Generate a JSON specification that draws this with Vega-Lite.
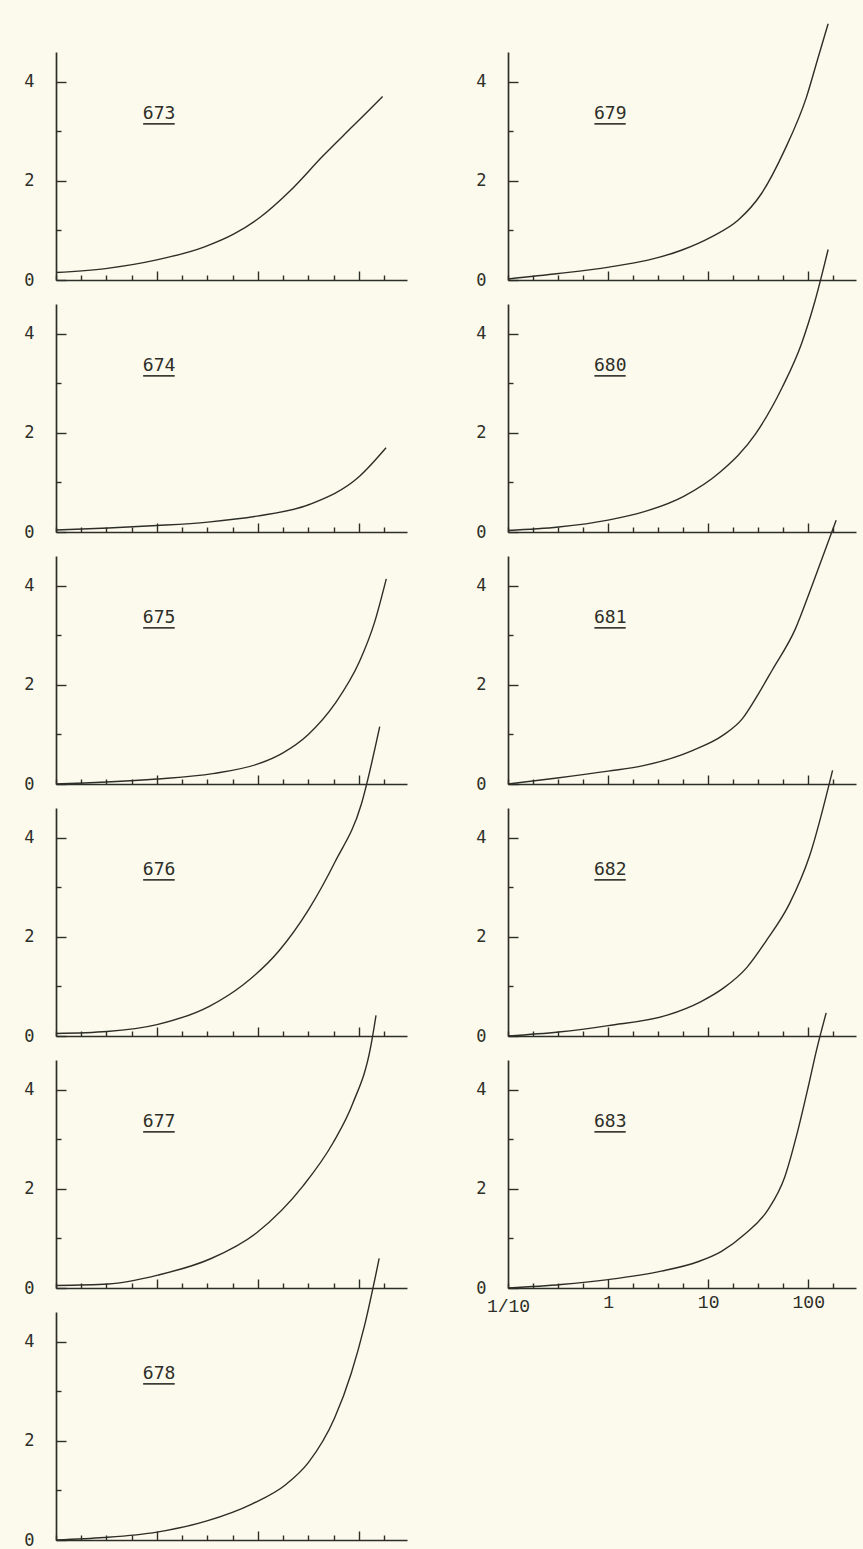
{
  "$schema": "https://vega.github.io/schema/vega-lite/v6.json",
  "background": "#fbfaec",
  "padding": {"left": 23, "top": 20, "right": 10, "bottom": 10},
  "config": {
    "view": {"stroke": null},
    "axis": {
      "grid": false,
      "domainColor": "#2e2e28",
      "domainWidth": 1.7,
      "tickColor": "#2e2e28",
      "tickWidth": 1.4,
      "labelColor": "#2e2e28",
      "labelFont": "DejaVu Sans Mono",
      "labelFontSize": 17,
      "title": null
    }
  },
  "datasets": {
    "curves": [
      {"p": "673", "x": 0.1, "y": 0.15}, {"p": "673", "x": 0.31, "y": 0.23}, {"p": "673", "x": 0.97, "y": 0.4}, {"p": "673", "x": 2.96, "y": 0.67}, {"p": "673", "x": 5.8, "y": 0.93}, {"p": "673", "x": 10.6, "y": 1.27}, {"p": "673", "x": 20.9, "y": 1.8}, {"p": "673", "x": 44, "y": 2.5}, {"p": "673", "x": 87, "y": 3.1}, {"p": "673", "x": 172, "y": 3.7},
      {"p": "674", "x": 0.1, "y": 0.04}, {"p": "674", "x": 0.33, "y": 0.08}, {"p": "674", "x": 1, "y": 0.13}, {"p": "674", "x": 3.2, "y": 0.2}, {"p": "674", "x": 9.8, "y": 0.32}, {"p": "674", "x": 32.8, "y": 0.56}, {"p": "674", "x": 101, "y": 1.12}, {"p": "674", "x": 186, "y": 1.7},
      {"p": "675", "x": 0.1, "y": 0}, {"p": "675", "x": 0.19, "y": 0.02}, {"p": "675", "x": 1, "y": 0.1}, {"p": "675", "x": 3.57, "y": 0.21}, {"p": "675", "x": 10.2, "y": 0.41}, {"p": "675", "x": 17.4, "y": 0.62}, {"p": "675", "x": 31.6, "y": 1.0}, {"p": "675", "x": 58, "y": 1.62}, {"p": "675", "x": 102, "y": 2.48}, {"p": "675", "x": 142, "y": 3.24}, {"p": "675", "x": 187, "y": 4.14},
      {"p": "676", "x": 0.1, "y": 0.05}, {"p": "676", "x": 0.32, "y": 0.09}, {"p": "676", "x": 1, "y": 0.23}, {"p": "676", "x": 3.3, "y": 0.6}, {"p": "676", "x": 7.1, "y": 1.03}, {"p": "676", "x": 16.2, "y": 1.72}, {"p": "676", "x": 31.8, "y": 2.55}, {"p": "676", "x": 58, "y": 3.51}, {"p": "676", "x": 106, "y": 4.68}, {"p": "676", "x": 161, "y": 6.24},
      {"p": "677", "x": 0.1, "y": 0.05}, {"p": "677", "x": 0.33, "y": 0.08}, {"p": "677", "x": 1.02, "y": 0.26}, {"p": "677", "x": 3.4, "y": 0.59}, {"p": "677", "x": 9.8, "y": 1.12}, {"p": "677", "x": 28.3, "y": 2.07}, {"p": "677", "x": 55.6, "y": 2.93}, {"p": "677", "x": 87, "y": 3.72}, {"p": "677", "x": 132, "y": 4.9}, {"p": "677", "x": 148, "y": 5.5},
      {"p": "678", "x": 0.1, "y": 0}, {"p": "678", "x": 0.3, "y": 0.05}, {"p": "678", "x": 1, "y": 0.16}, {"p": "678", "x": 3.07, "y": 0.38}, {"p": "678", "x": 8.8, "y": 0.73}, {"p": "678", "x": 18.7, "y": 1.11}, {"p": "678", "x": 31.6, "y": 1.56}, {"p": "678", "x": 57.5, "y": 2.46}, {"p": "678", "x": 84, "y": 3.36}, {"p": "678", "x": 114, "y": 4.33}, {"p": "678", "x": 159, "y": 5.68},
      {"p": "679", "x": 0.1, "y": 0.02}, {"p": "679", "x": 0.32, "y": 0.13}, {"p": "679", "x": 1.02, "y": 0.26}, {"p": "679", "x": 2.5, "y": 0.4}, {"p": "679", "x": 5.4, "y": 0.6}, {"p": "679", "x": 10.8, "y": 0.87}, {"p": "679", "x": 20, "y": 1.21}, {"p": "679", "x": 34, "y": 1.74}, {"p": "679", "x": 58, "y": 2.62}, {"p": "679", "x": 96, "y": 3.69}, {"p": "679", "x": 126, "y": 4.5}, {"p": "679", "x": 158, "y": 5.17},
      {"p": "680", "x": 0.1, "y": 0.03}, {"p": "680", "x": 0.32, "y": 0.1}, {"p": "680", "x": 1, "y": 0.24}, {"p": "680", "x": 2.3, "y": 0.41}, {"p": "680", "x": 5.7, "y": 0.72}, {"p": "680", "x": 13, "y": 1.2}, {"p": "680", "x": 30, "y": 1.99}, {"p": "680", "x": 55, "y": 2.92}, {"p": "680", "x": 86, "y": 3.81}, {"p": "680", "x": 116, "y": 4.64}, {"p": "680", "x": 158, "y": 5.7},
      {"p": "681", "x": 0.1, "y": 0}, {"p": "681", "x": 0.31, "y": 0.12}, {"p": "681", "x": 1, "y": 0.26}, {"p": "681", "x": 2.25, "y": 0.37}, {"p": "681", "x": 7.05, "y": 0.68}, {"p": "681", "x": 14, "y": 0.98}, {"p": "681", "x": 22, "y": 1.32}, {"p": "681", "x": 32, "y": 1.83}, {"p": "681", "x": 43.7, "y": 2.3}, {"p": "681", "x": 74, "y": 3.12}, {"p": "681", "x": 109, "y": 4.0}, {"p": "681", "x": 190, "y": 5.32},
      {"p": "682", "x": 0.1, "y": 0}, {"p": "682", "x": 0.32, "y": 0.08}, {"p": "682", "x": 1, "y": 0.21}, {"p": "682", "x": 3.9, "y": 0.42}, {"p": "682", "x": 8.4, "y": 0.69}, {"p": "682", "x": 14.3, "y": 0.97}, {"p": "682", "x": 24.3, "y": 1.38}, {"p": "682", "x": 38, "y": 1.92}, {"p": "682", "x": 65, "y": 2.67}, {"p": "682", "x": 103, "y": 3.63}, {"p": "682", "x": 175, "y": 5.36},
      {"p": "683", "x": 0.1, "y": 0}, {"p": "683", "x": 0.34, "y": 0.07}, {"p": "683", "x": 1, "y": 0.17}, {"p": "683", "x": 3.4, "y": 0.34}, {"p": "683", "x": 7.9, "y": 0.53}, {"p": "683", "x": 13.6, "y": 0.74}, {"p": "683", "x": 23, "y": 1.08}, {"p": "683", "x": 40, "y": 1.59}, {"p": "683", "x": 58, "y": 2.23}, {"p": "683", "x": 79, "y": 3.19}, {"p": "683", "x": 100, "y": 4.06}, {"p": "683", "x": 121, "y": 4.8}, {"p": "683", "x": 151, "y": 5.55}
    ]
  },
  "bounds": "flush",
  "columns": 2,
  "spacing": {"row": 24, "column": 101},
  "concat": [
    {"width": 351, "height": 228, "data": {"name": "curves"}, "transform": [{"filter": "datum.p == '673'"}], "layer": [
      {"mark": {"type": "line", "clip": false, "interpolate": "monotone", "color": "#2e2e28", "strokeWidth": 1.4}, "encoding": {
        "x": {"field": "x", "type": "quantitative", "scale": {"type": "log", "domain": [0.1, 300], "nice": false}, "axis": {"values": [0.1, 0.17783, 0.31623, 0.56234, 1, 1.7783, 3.1623, 5.6234, 10, 17.783, 31.623, 56.234, 100, 177.83], "labels": false, "tickSize": {"condition": {"test": "datum.value == 1 || datum.value == 10 || datum.value == 100", "value": -9}, "value": -5}}},
        "y": {"field": "y", "type": "quantitative", "scale": {"domain": [0, 4.6], "nice": false}, "axis": {"values": [0, 1, 2, 3, 4], "labelExpr": "datum.value % 2 == 0 ? datum.label : ''", "labelPadding": 32, "tickSize": {"condition": {"test": "datum.value == 1 || datum.value == 3", "value": -5}, "value": -10}}}}},
      {"data": {"values": [{"label": "673"}]}, "mark": {"type": "text", "font": "DejaVu Sans Mono", "fontSize": 18, "color": "#2e2e28"}, "encoding": {"x": {"datum": 1.05}, "y": {"datum": 3.35}, "text": {"field": "label"}}},
      {"data": {"values": [{"label": "673"}]}, "mark": {"type": "rule", "color": "#2e2e28", "strokeWidth": 1.6}, "encoding": {"x": {"datum": 0.73}, "x2": {"datum": 1.5}, "y": {"datum": 3.15}}}
    ]},
    {"width": 348, "height": 228, "data": {"name": "curves"}, "transform": [{"filter": "datum.p == '679'"}], "layer": [
      {"mark": {"type": "line", "clip": false, "interpolate": "monotone", "color": "#2e2e28", "strokeWidth": 1.4}, "encoding": {
        "x": {"field": "x", "type": "quantitative", "scale": {"type": "log", "domain": [0.1, 300], "nice": false}, "axis": {"values": [0.1, 0.17783, 0.31623, 0.56234, 1, 1.7783, 3.1623, 5.6234, 10, 17.783, 31.623, 56.234, 100, 177.83], "labels": false, "tickSize": {"condition": {"test": "datum.value == 1 || datum.value == 10 || datum.value == 100", "value": -9}, "value": -5}}},
        "y": {"field": "y", "type": "quantitative", "scale": {"domain": [0, 4.6], "nice": false}, "axis": {"values": [0, 1, 2, 3, 4], "labelExpr": "datum.value % 2 == 0 ? datum.label : ''", "labelPadding": 32, "tickSize": {"condition": {"test": "datum.value == 1 || datum.value == 3", "value": -5}, "value": -10}}}}},
      {"data": {"values": [{"label": "679"}]}, "mark": {"type": "text", "font": "DejaVu Sans Mono", "fontSize": 18, "color": "#2e2e28"}, "encoding": {"x": {"datum": 1.05}, "y": {"datum": 3.35}, "text": {"field": "label"}}},
      {"data": {"values": [{"label": "679"}]}, "mark": {"type": "rule", "color": "#2e2e28", "strokeWidth": 1.6}, "encoding": {"x": {"datum": 0.73}, "x2": {"datum": 1.5}, "y": {"datum": 3.15}}}
    ]},
    {"width": 351, "height": 228, "data": {"name": "curves"}, "transform": [{"filter": "datum.p == '674'"}], "layer": [
      {"mark": {"type": "line", "clip": false, "interpolate": "monotone", "color": "#2e2e28", "strokeWidth": 1.4}, "encoding": {
        "x": {"field": "x", "type": "quantitative", "scale": {"type": "log", "domain": [0.1, 300], "nice": false}, "axis": {"values": [0.1, 0.17783, 0.31623, 0.56234, 1, 1.7783, 3.1623, 5.6234, 10, 17.783, 31.623, 56.234, 100, 177.83], "labels": false, "tickSize": {"condition": {"test": "datum.value == 1 || datum.value == 10 || datum.value == 100", "value": -9}, "value": -5}}},
        "y": {"field": "y", "type": "quantitative", "scale": {"domain": [0, 4.6], "nice": false}, "axis": {"values": [0, 1, 2, 3, 4], "labelExpr": "datum.value % 2 == 0 ? datum.label : ''", "labelPadding": 32, "tickSize": {"condition": {"test": "datum.value == 1 || datum.value == 3", "value": -5}, "value": -10}}}}},
      {"data": {"values": [{"label": "674"}]}, "mark": {"type": "text", "font": "DejaVu Sans Mono", "fontSize": 18, "color": "#2e2e28"}, "encoding": {"x": {"datum": 1.05}, "y": {"datum": 3.35}, "text": {"field": "label"}}},
      {"data": {"values": [{"label": "674"}]}, "mark": {"type": "rule", "color": "#2e2e28", "strokeWidth": 1.6}, "encoding": {"x": {"datum": 0.73}, "x2": {"datum": 1.5}, "y": {"datum": 3.15}}}
    ]},
    {"width": 348, "height": 228, "data": {"name": "curves"}, "transform": [{"filter": "datum.p == '680'"}], "layer": [
      {"mark": {"type": "line", "clip": false, "interpolate": "monotone", "color": "#2e2e28", "strokeWidth": 1.4}, "encoding": {
        "x": {"field": "x", "type": "quantitative", "scale": {"type": "log", "domain": [0.1, 300], "nice": false}, "axis": {"values": [0.1, 0.17783, 0.31623, 0.56234, 1, 1.7783, 3.1623, 5.6234, 10, 17.783, 31.623, 56.234, 100, 177.83], "labels": false, "tickSize": {"condition": {"test": "datum.value == 1 || datum.value == 10 || datum.value == 100", "value": -9}, "value": -5}}},
        "y": {"field": "y", "type": "quantitative", "scale": {"domain": [0, 4.6], "nice": false}, "axis": {"values": [0, 1, 2, 3, 4], "labelExpr": "datum.value % 2 == 0 ? datum.label : ''", "labelPadding": 32, "tickSize": {"condition": {"test": "datum.value == 1 || datum.value == 3", "value": -5}, "value": -10}}}}},
      {"data": {"values": [{"label": "680"}]}, "mark": {"type": "text", "font": "DejaVu Sans Mono", "fontSize": 18, "color": "#2e2e28"}, "encoding": {"x": {"datum": 1.05}, "y": {"datum": 3.35}, "text": {"field": "label"}}},
      {"data": {"values": [{"label": "680"}]}, "mark": {"type": "rule", "color": "#2e2e28", "strokeWidth": 1.6}, "encoding": {"x": {"datum": 0.73}, "x2": {"datum": 1.5}, "y": {"datum": 3.15}}}
    ]},
    {"width": 351, "height": 228, "data": {"name": "curves"}, "transform": [{"filter": "datum.p == '675'"}], "layer": [
      {"mark": {"type": "line", "clip": false, "interpolate": "monotone", "color": "#2e2e28", "strokeWidth": 1.4}, "encoding": {
        "x": {"field": "x", "type": "quantitative", "scale": {"type": "log", "domain": [0.1, 300], "nice": false}, "axis": {"values": [0.1, 0.17783, 0.31623, 0.56234, 1, 1.7783, 3.1623, 5.6234, 10, 17.783, 31.623, 56.234, 100, 177.83], "labels": false, "tickSize": {"condition": {"test": "datum.value == 1 || datum.value == 10 || datum.value == 100", "value": -9}, "value": -5}}},
        "y": {"field": "y", "type": "quantitative", "scale": {"domain": [0, 4.6], "nice": false}, "axis": {"values": [0, 1, 2, 3, 4], "labelExpr": "datum.value % 2 == 0 ? datum.label : ''", "labelPadding": 32, "tickSize": {"condition": {"test": "datum.value == 1 || datum.value == 3", "value": -5}, "value": -10}}}}},
      {"data": {"values": [{"label": "675"}]}, "mark": {"type": "text", "font": "DejaVu Sans Mono", "fontSize": 18, "color": "#2e2e28"}, "encoding": {"x": {"datum": 1.05}, "y": {"datum": 3.35}, "text": {"field": "label"}}},
      {"data": {"values": [{"label": "675"}]}, "mark": {"type": "rule", "color": "#2e2e28", "strokeWidth": 1.6}, "encoding": {"x": {"datum": 0.73}, "x2": {"datum": 1.5}, "y": {"datum": 3.15}}}
    ]},
    {"width": 348, "height": 228, "data": {"name": "curves"}, "transform": [{"filter": "datum.p == '681'"}], "layer": [
      {"mark": {"type": "line", "clip": false, "interpolate": "monotone", "color": "#2e2e28", "strokeWidth": 1.4}, "encoding": {
        "x": {"field": "x", "type": "quantitative", "scale": {"type": "log", "domain": [0.1, 300], "nice": false}, "axis": {"values": [0.1, 0.17783, 0.31623, 0.56234, 1, 1.7783, 3.1623, 5.6234, 10, 17.783, 31.623, 56.234, 100, 177.83], "labels": false, "tickSize": {"condition": {"test": "datum.value == 1 || datum.value == 10 || datum.value == 100", "value": -9}, "value": -5}}},
        "y": {"field": "y", "type": "quantitative", "scale": {"domain": [0, 4.6], "nice": false}, "axis": {"values": [0, 1, 2, 3, 4], "labelExpr": "datum.value % 2 == 0 ? datum.label : ''", "labelPadding": 32, "tickSize": {"condition": {"test": "datum.value == 1 || datum.value == 3", "value": -5}, "value": -10}}}}},
      {"data": {"values": [{"label": "681"}]}, "mark": {"type": "text", "font": "DejaVu Sans Mono", "fontSize": 18, "color": "#2e2e28"}, "encoding": {"x": {"datum": 1.05}, "y": {"datum": 3.35}, "text": {"field": "label"}}},
      {"data": {"values": [{"label": "681"}]}, "mark": {"type": "rule", "color": "#2e2e28", "strokeWidth": 1.6}, "encoding": {"x": {"datum": 0.73}, "x2": {"datum": 1.5}, "y": {"datum": 3.15}}}
    ]},
    {"width": 351, "height": 228, "data": {"name": "curves"}, "transform": [{"filter": "datum.p == '676'"}], "layer": [
      {"mark": {"type": "line", "clip": false, "interpolate": "monotone", "color": "#2e2e28", "strokeWidth": 1.4}, "encoding": {
        "x": {"field": "x", "type": "quantitative", "scale": {"type": "log", "domain": [0.1, 300], "nice": false}, "axis": {"values": [0.1, 0.17783, 0.31623, 0.56234, 1, 1.7783, 3.1623, 5.6234, 10, 17.783, 31.623, 56.234, 100, 177.83], "labels": false, "tickSize": {"condition": {"test": "datum.value == 1 || datum.value == 10 || datum.value == 100", "value": -9}, "value": -5}}},
        "y": {"field": "y", "type": "quantitative", "scale": {"domain": [0, 4.6], "nice": false}, "axis": {"values": [0, 1, 2, 3, 4], "labelExpr": "datum.value % 2 == 0 ? datum.label : ''", "labelPadding": 32, "tickSize": {"condition": {"test": "datum.value == 1 || datum.value == 3", "value": -5}, "value": -10}}}}},
      {"data": {"values": [{"label": "676"}]}, "mark": {"type": "text", "font": "DejaVu Sans Mono", "fontSize": 18, "color": "#2e2e28"}, "encoding": {"x": {"datum": 1.05}, "y": {"datum": 3.35}, "text": {"field": "label"}}},
      {"data": {"values": [{"label": "676"}]}, "mark": {"type": "rule", "color": "#2e2e28", "strokeWidth": 1.6}, "encoding": {"x": {"datum": 0.73}, "x2": {"datum": 1.5}, "y": {"datum": 3.15}}}
    ]},
    {"width": 348, "height": 228, "data": {"name": "curves"}, "transform": [{"filter": "datum.p == '682'"}], "layer": [
      {"mark": {"type": "line", "clip": false, "interpolate": "monotone", "color": "#2e2e28", "strokeWidth": 1.4}, "encoding": {
        "x": {"field": "x", "type": "quantitative", "scale": {"type": "log", "domain": [0.1, 300], "nice": false}, "axis": {"values": [0.1, 0.17783, 0.31623, 0.56234, 1, 1.7783, 3.1623, 5.6234, 10, 17.783, 31.623, 56.234, 100, 177.83], "labels": false, "tickSize": {"condition": {"test": "datum.value == 1 || datum.value == 10 || datum.value == 100", "value": -9}, "value": -5}}},
        "y": {"field": "y", "type": "quantitative", "scale": {"domain": [0, 4.6], "nice": false}, "axis": {"values": [0, 1, 2, 3, 4], "labelExpr": "datum.value % 2 == 0 ? datum.label : ''", "labelPadding": 32, "tickSize": {"condition": {"test": "datum.value == 1 || datum.value == 3", "value": -5}, "value": -10}}}}},
      {"data": {"values": [{"label": "682"}]}, "mark": {"type": "text", "font": "DejaVu Sans Mono", "fontSize": 18, "color": "#2e2e28"}, "encoding": {"x": {"datum": 1.05}, "y": {"datum": 3.35}, "text": {"field": "label"}}},
      {"data": {"values": [{"label": "682"}]}, "mark": {"type": "rule", "color": "#2e2e28", "strokeWidth": 1.6}, "encoding": {"x": {"datum": 0.73}, "x2": {"datum": 1.5}, "y": {"datum": 3.15}}}
    ]},
    {"width": 351, "height": 228, "data": {"name": "curves"}, "transform": [{"filter": "datum.p == '677'"}], "layer": [
      {"mark": {"type": "line", "clip": false, "interpolate": "monotone", "color": "#2e2e28", "strokeWidth": 1.4}, "encoding": {
        "x": {"field": "x", "type": "quantitative", "scale": {"type": "log", "domain": [0.1, 300], "nice": false}, "axis": {"values": [0.1, 0.17783, 0.31623, 0.56234, 1, 1.7783, 3.1623, 5.6234, 10, 17.783, 31.623, 56.234, 100, 177.83], "labels": false, "tickSize": {"condition": {"test": "datum.value == 1 || datum.value == 10 || datum.value == 100", "value": -9}, "value": -5}}},
        "y": {"field": "y", "type": "quantitative", "scale": {"domain": [0, 4.6], "nice": false}, "axis": {"values": [0, 1, 2, 3, 4], "labelExpr": "datum.value % 2 == 0 ? datum.label : ''", "labelPadding": 32, "tickSize": {"condition": {"test": "datum.value == 1 || datum.value == 3", "value": -5}, "value": -10}}}}},
      {"data": {"values": [{"label": "677"}]}, "mark": {"type": "text", "font": "DejaVu Sans Mono", "fontSize": 18, "color": "#2e2e28"}, "encoding": {"x": {"datum": 1.05}, "y": {"datum": 3.35}, "text": {"field": "label"}}},
      {"data": {"values": [{"label": "677"}]}, "mark": {"type": "rule", "color": "#2e2e28", "strokeWidth": 1.6}, "encoding": {"x": {"datum": 0.73}, "x2": {"datum": 1.5}, "y": {"datum": 3.15}}}
    ]},
    {"width": 348, "height": 228, "data": {"name": "curves"}, "transform": [{"filter": "datum.p == '683'"}], "layer": [
      {"mark": {"type": "line", "clip": false, "interpolate": "monotone", "color": "#2e2e28", "strokeWidth": 1.4}, "encoding": {
        "x": {"field": "x", "type": "quantitative", "scale": {"type": "log", "domain": [0.1, 300], "nice": false}, "axis": {"values": [0.1, 0.17783, 0.31623, 0.56234, 1, 1.7783, 3.1623, 5.6234, 10, 17.783, 31.623, 56.234, 100, 177.83], "labelExpr": "datum.value == 0.1 ? '1/10' : datum.value == 1 ? '1' : datum.value == 10 ? '10' : datum.value == 100 ? '100' : ''", "labelFont": "Liberation Mono", "labelFontSize": 18, "labelPadding": 14, "labelFlush": false, "labelOverlap": false, "tickSize": {"condition": {"test": "datum.value == 1 || datum.value == 10 || datum.value == 100", "value": -9}, "value": -5}}},
        "y": {"field": "y", "type": "quantitative", "scale": {"domain": [0, 4.6], "nice": false}, "axis": {"values": [0, 1, 2, 3, 4], "labelExpr": "datum.value % 2 == 0 ? datum.label : ''", "labelPadding": 32, "tickSize": {"condition": {"test": "datum.value == 1 || datum.value == 3", "value": -5}, "value": -10}}}}},
      {"data": {"values": [{"label": "683"}]}, "mark": {"type": "text", "font": "DejaVu Sans Mono", "fontSize": 18, "color": "#2e2e28"}, "encoding": {"x": {"datum": 1.05}, "y": {"datum": 3.35}, "text": {"field": "label"}}},
      {"data": {"values": [{"label": "683"}]}, "mark": {"type": "rule", "color": "#2e2e28", "strokeWidth": 1.6}, "encoding": {"x": {"datum": 0.73}, "x2": {"datum": 1.5}, "y": {"datum": 3.15}}}
    ]},
    {"width": 351, "height": 228, "data": {"name": "curves"}, "transform": [{"filter": "datum.p == '678'"}], "layer": [
      {"mark": {"type": "line", "clip": false, "interpolate": "monotone", "color": "#2e2e28", "strokeWidth": 1.4}, "encoding": {
        "x": {"field": "x", "type": "quantitative", "scale": {"type": "log", "domain": [0.1, 300], "nice": false}, "axis": {"values": [0.1, 0.17783, 0.31623, 0.56234, 1, 1.7783, 3.1623, 5.6234, 10, 17.783, 31.623, 56.234, 100, 177.83], "labels": false, "tickSize": {"condition": {"test": "datum.value == 1 || datum.value == 10 || datum.value == 100", "value": -9}, "value": -5}}},
        "y": {"field": "y", "type": "quantitative", "scale": {"domain": [0, 4.6], "nice": false}, "axis": {"values": [0, 1, 2, 3, 4], "labelExpr": "datum.value % 2 == 0 ? datum.label : ''", "labelPadding": 32, "tickSize": {"condition": {"test": "datum.value == 1 || datum.value == 3", "value": -5}, "value": -10}}}}},
      {"data": {"values": [{"label": "678"}]}, "mark": {"type": "text", "font": "DejaVu Sans Mono", "fontSize": 18, "color": "#2e2e28"}, "encoding": {"x": {"datum": 1.05}, "y": {"datum": 3.35}, "text": {"field": "label"}}},
      {"data": {"values": [{"label": "678"}]}, "mark": {"type": "rule", "color": "#2e2e28", "strokeWidth": 1.6}, "encoding": {"x": {"datum": 0.73}, "x2": {"datum": 1.5}, "y": {"datum": 3.15}}}
    ]}
  ]
}
